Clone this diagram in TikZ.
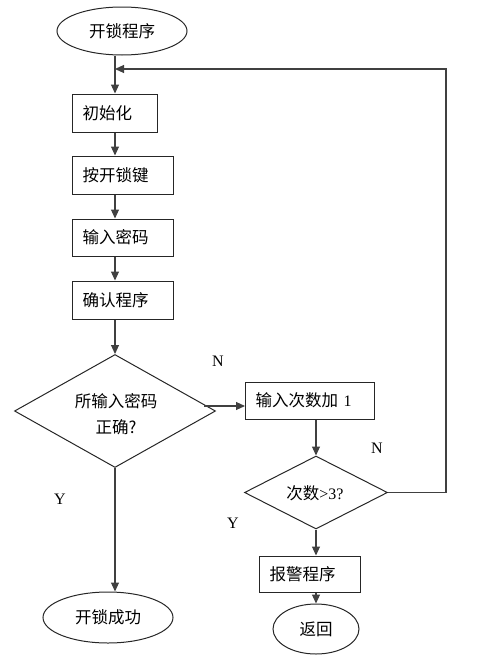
\documentclass[tikz,border=0pt]{standalone}
\usepackage{fontspec}
\setmainfont{Liberation Serif}
\newfontfamily\cjk{Noto Sans CJK SC}
\usetikzlibrary{shapes.geometric,arrows.meta}
\begin{document}
\begin{tikzpicture}[x=1pt,y=-1pt,
  font=\fontsize{16}{19}\selectfont,
  box/.style={draw=black!85, line width=1pt, rectangle, minimum height=38pt,
    inner xsep=10pt, inner ysep=0pt, anchor=west, align=left,
    font=\cjk\fontsize{16.5}{19}\selectfont},
  term/.style={draw=black!85, line width=1pt, ellipse, inner sep=0pt,
    font=\cjk\fontsize{16.5}{19}\selectfont},
  decision/.style={draw=black!85, line width=1pt, diamond, inner sep=0pt},
  flow/.style={draw=black!75, line width=1.1pt, -{Triangle[length=9pt,width=8pt]}},
  yn/.style={font=\rmfamily\fontsize{16}{19}\selectfont}]
\useasboundingbox (0,0) rectangle (489,672);
\coordinate (mx) at (115,0);

\node[term, minimum width=130pt, minimum height=48pt] (start) at (122,31) {开锁程序};
\node[box, text width=65pt] (init) at (72,113) {初始化};
\node[box, text width=81pt] (key) at (72,175) {按开锁键};
\node[box, text width=81pt, minimum height=37pt] (pwd) at (72,237.5) {输入密码};
\node[box, text width=81pt] (chk) at (72,300) {确认程序};
\node[decision, minimum width=201pt, minimum height=113pt] (d1) at (115,411) {};
\node[align=center, font=\cjk\fontsize{16.5}{26}\selectfont] (d1t) at (116,414) {所输入密码\\正确?};
\node[box, text width=109pt, minimum height=37pt] (inc) at (245,400.5) {输入次数加 {\rmfamily\fontsize{16}{19}\selectfont 1}};
\node[decision, minimum width=143pt, minimum height=73pt] (d2) at (316,492.5) {};
\node[font=\fontsize{16}{19}\selectfont] (d2t) at (315,493) {{\cjk\fontsize{16.5}{19}\selectfont 次数}>3?};
\node[box, text width=81pt, minimum height=36pt] (alarm) at (259,574) {报警程序};
\node[term, minimum width=86pt, minimum height=50pt] (ret) at (316,629) {返回};
\node[term, minimum width=130pt, minimum height=51pt] (ok) at (108,617.5) {开锁成功};

\node[yn] (n1) at (218,361) {N};
\node[yn] (n2) at (377,448) {N};
\node[yn] (y1) at (60,499) {Y};
\node[yn] (y2) at (233,523) {Y};

\coordinate (rx) at (446,69);
\coordinate (jn) at (115,69);
\coordinate (d1r) at (204,406);

\draw[flow] (start.south -| mx) -- (init.north -| mx);
\draw[flow] (init.south -| mx) -- (key.north -| mx);
\draw[flow] (key.south -| mx) -- (pwd.north -| mx);
\draw[flow] (pwd.south -| mx) -- (chk.north -| mx);
\draw[flow] (chk.south -| mx) -- (d1.north);
\draw[flow] (d1.south) -- (d1.south |- ok.north);
\draw[flow] (d1r) -- (d1r -| inc.west);
\draw[flow] (inc.south -| d2.north) -- (d2.north);
\draw[flow] (d2.south) -- (d2.south |- alarm.north);
\draw[flow] (ret.north |- alarm.south) -- (ret.north);
\draw[flow] (d2.east) -| (rx) -- (jn);
\end{tikzpicture}
\end{document}
